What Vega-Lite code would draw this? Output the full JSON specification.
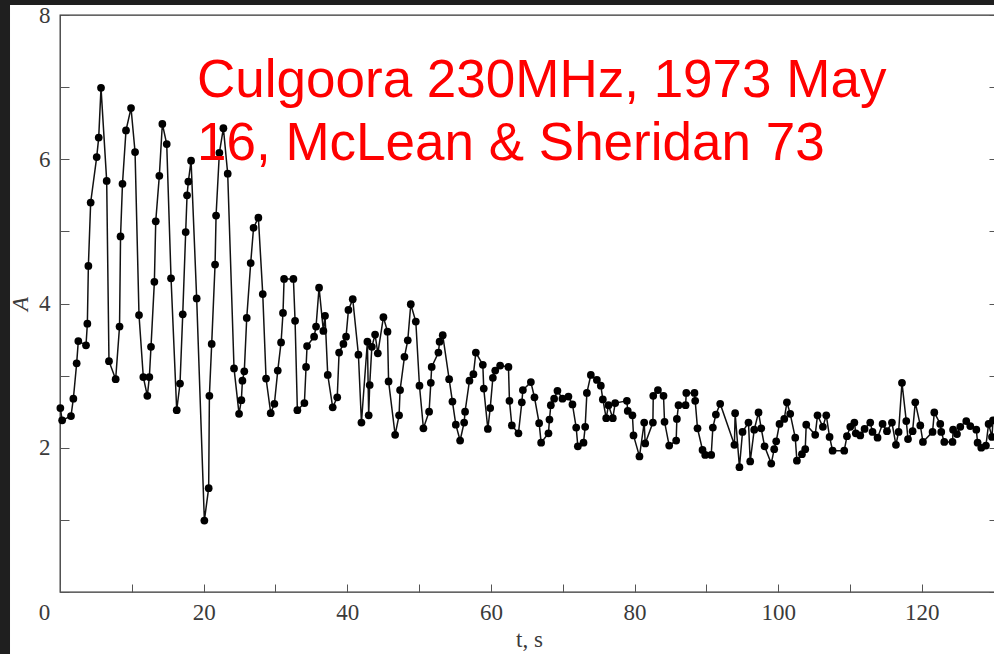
{
  "$schema": "https://vega.github.io/schema/vega-lite/v6.json",
  "width": 938,
  "height": 577,
  "autosize": {"type": "none"},
  "padding": {"left": 60, "top": 15, "right": 0, "bottom": 62},
  "background": "white",
  "config": {
    "view": {"stroke": "#333333", "strokeWidth": 1.3},
    "axis": {
      "labelFont": "Liberation Serif",
      "labelFontSize": 23,
      "labelColor": "#3a3a3a",
      "titleFont": "Liberation Serif",
      "titleFontSize": 23,
      "titleFontWeight": "normal",
      "titleColor": "#3a3a3a",
      "tickColor": "#555555",
      "tickWidth": 1,
      "domain": false,
      "grid": false,
      "labelOverlap": false,
      "labelFlush": false,
      "labelBound": false
    }
  },
  "datasets": {
    "pts": [
      {"t": 0.05, "A": 2.55}, {"t": 0.3, "A": 2.38}, {"t": 1.53, "A": 2.44}, {"t": 1.86, "A": 2.68},
      {"t": 2.32, "A": 3.17}, {"t": 2.55, "A": 3.48}, {"t": 3.62, "A": 3.42}, {"t": 3.81, "A": 3.72},
      {"t": 3.95, "A": 4.52}, {"t": 4.27, "A": 5.40}, {"t": 5.11, "A": 6.03}, {"t": 5.39, "A": 6.30},
      {"t": 5.71, "A": 6.99}, {"t": 6.5, "A": 5.70}, {"t": 6.82, "A": 3.20}, {"t": 7.75, "A": 2.95},
      {"t": 8.29, "A": 3.68}, {"t": 8.43, "A": 4.93}, {"t": 8.7, "A": 5.66}, {"t": 9.19, "A": 6.40},
      {"t": 9.89, "A": 6.71}, {"t": 10.45, "A": 6.10}, {"t": 11.0, "A": 3.84}, {"t": 11.6, "A": 2.98},
      {"t": 12.16, "A": 2.72}, {"t": 12.44, "A": 2.98}, {"t": 12.67, "A": 3.40}, {"t": 13.14, "A": 4.30},
      {"t": 13.33, "A": 5.14}, {"t": 13.83, "A": 5.77}, {"t": 14.25, "A": 6.49}, {"t": 14.86, "A": 6.21},
      {"t": 15.46, "A": 4.35}, {"t": 16.25, "A": 2.52}, {"t": 16.71, "A": 2.89}, {"t": 17.09, "A": 3.85},
      {"t": 17.5, "A": 4.99}, {"t": 17.69, "A": 5.50}, {"t": 17.87, "A": 5.69}, {"t": 18.25, "A": 5.98},
      {"t": 19.03, "A": 4.07}, {"t": 20.1, "A": 0.99}, {"t": 20.7, "A": 1.44}, {"t": 20.8, "A": 2.72},
      {"t": 21.12, "A": 3.44}, {"t": 21.59, "A": 4.54}, {"t": 21.73, "A": 5.22}, {"t": 22.19, "A": 6.09},
      {"t": 22.75, "A": 6.43}, {"t": 23.35, "A": 5.80}, {"t": 24.23, "A": 3.10}, {"t": 24.93, "A": 2.47},
      {"t": 25.25, "A": 2.66}, {"t": 25.4, "A": 2.93}, {"t": 25.66, "A": 3.06}, {"t": 26.0, "A": 3.80},
      {"t": 26.55, "A": 4.56}, {"t": 26.95, "A": 5.05}, {"t": 27.62, "A": 5.19}, {"t": 28.23, "A": 4.13},
      {"t": 28.69, "A": 2.96}, {"t": 29.34, "A": 2.48}, {"t": 29.85, "A": 2.61}, {"t": 30.32, "A": 3.07},
      {"t": 30.78, "A": 3.46}, {"t": 31.05, "A": 3.87}, {"t": 31.2, "A": 4.34}, {"t": 32.5, "A": 4.34},
      {"t": 32.73, "A": 3.76}, {"t": 33.05, "A": 2.52}, {"t": 34.03, "A": 2.62}, {"t": 34.26, "A": 3.12},
      {"t": 34.4, "A": 3.41}, {"t": 35.38, "A": 3.54}, {"t": 35.65, "A": 3.68}, {"t": 36.07, "A": 4.22},
      {"t": 36.67, "A": 3.62}, {"t": 36.9, "A": 3.83}, {"t": 37.28, "A": 3.01}, {"t": 37.97, "A": 2.56},
      {"t": 38.6, "A": 2.70}, {"t": 38.86, "A": 3.32}, {"t": 39.46, "A": 3.44}, {"t": 39.83, "A": 3.54},
      {"t": 40.16, "A": 3.91}, {"t": 40.76, "A": 4.06}, {"t": 41.55, "A": 3.29}, {"t": 41.97, "A": 2.35},
      {"t": 42.8, "A": 3.47}, {"t": 42.98, "A": 2.45}, {"t": 43.12, "A": 2.87}, {"t": 43.42, "A": 3.40},
      {"t": 43.87, "A": 3.57}, {"t": 44.25, "A": 3.31}, {"t": 45.03, "A": 3.81}, {"t": 45.6, "A": 3.61},
      {"t": 45.75, "A": 2.92}, {"t": 46.66, "A": 2.18}, {"t": 47.21, "A": 2.45}, {"t": 47.35, "A": 2.80},
      {"t": 47.96, "A": 3.26}, {"t": 48.42, "A": 3.49}, {"t": 48.84, "A": 3.99}, {"t": 49.54, "A": 3.75},
      {"t": 50.05, "A": 2.86}, {"t": 50.6, "A": 2.27}, {"t": 51.39, "A": 2.50}, {"t": 51.63, "A": 2.90},
      {"t": 51.75, "A": 3.12}, {"t": 52.69, "A": 3.32}, {"t": 52.85, "A": 3.47}, {"t": 53.29, "A": 3.56},
      {"t": 54.18, "A": 2.95}, {"t": 54.64, "A": 2.64}, {"t": 55.11, "A": 2.32}, {"t": 55.71, "A": 2.10},
      {"t": 56.27, "A": 2.35}, {"t": 56.4, "A": 2.50}, {"t": 57.01, "A": 2.93}, {"t": 57.56, "A": 3.02},
      {"t": 57.9, "A": 3.32}, {"t": 58.87, "A": 3.15}, {"t": 59.0, "A": 2.82}, {"t": 59.57, "A": 2.26},
      {"t": 59.9, "A": 2.55}, {"t": 60.27, "A": 2.97}, {"t": 60.6, "A": 3.07}, {"t": 61.28, "A": 3.14},
      {"t": 62.44, "A": 3.12}, {"t": 62.58, "A": 2.65}, {"t": 62.91, "A": 2.31}, {"t": 63.83, "A": 2.20},
      {"t": 64.3, "A": 2.63}, {"t": 64.45, "A": 2.80}, {"t": 65.56, "A": 2.91}, {"t": 66.06, "A": 2.70},
      {"t": 66.71, "A": 2.34}, {"t": 66.99, "A": 2.07}, {"t": 68.01, "A": 2.20}, {"t": 68.15, "A": 2.39},
      {"t": 68.34, "A": 2.59}, {"t": 68.8, "A": 2.68}, {"t": 69.26, "A": 2.79}, {"t": 69.96, "A": 2.68},
      {"t": 70.79, "A": 2.71}, {"t": 71.35, "A": 2.60}, {"t": 71.87, "A": 2.28}, {"t": 72.1, "A": 2.02},
      {"t": 72.89, "A": 2.07}, {"t": 73.12, "A": 2.29}, {"t": 73.36, "A": 2.76}, {"t": 73.91, "A": 3.01},
      {"t": 74.75, "A": 2.94}, {"t": 75.3, "A": 2.86}, {"t": 75.58, "A": 2.67}, {"t": 76.05, "A": 2.41},
      {"t": 76.37, "A": 2.59}, {"t": 76.97, "A": 2.41}, {"t": 77.3, "A": 2.62}, {"t": 78.93, "A": 2.65},
      {"t": 79.05, "A": 2.51}, {"t": 79.7, "A": 2.45}, {"t": 79.85, "A": 2.17}, {"t": 80.68, "A": 1.88},
      {"t": 81.34, "A": 2.35}, {"t": 81.48, "A": 2.06}, {"t": 82.55, "A": 2.35}, {"t": 82.6, "A": 2.72},
      {"t": 83.25, "A": 2.80}, {"t": 84.03, "A": 2.72}, {"t": 84.17, "A": 2.36}, {"t": 84.82, "A": 2.03},
      {"t": 85.79, "A": 2.10}, {"t": 85.89, "A": 2.40}, {"t": 86.12, "A": 2.59}, {"t": 87.1, "A": 2.59},
      {"t": 87.2, "A": 2.76}, {"t": 88.34, "A": 2.76}, {"t": 88.44, "A": 2.65}, {"t": 88.76, "A": 2.27},
      {"t": 89.46, "A": 1.97}, {"t": 89.83, "A": 1.90}, {"t": 90.67, "A": 1.90}, {"t": 90.9, "A": 2.28},
      {"t": 91.32, "A": 2.46}, {"t": 91.92, "A": 2.61}, {"t": 93.9, "A": 2.04}, {"t": 94.0, "A": 2.48},
      {"t": 94.6, "A": 1.73}, {"t": 95.03, "A": 2.22}, {"t": 95.86, "A": 2.35}, {"t": 96.1, "A": 1.81},
      {"t": 96.66, "A": 2.25}, {"t": 97.26, "A": 2.49}, {"t": 97.63, "A": 2.27}, {"t": 98.1, "A": 2.02},
      {"t": 99.03, "A": 1.78}, {"t": 99.44, "A": 1.98}, {"t": 99.72, "A": 2.09}, {"t": 100.18, "A": 2.33},
      {"t": 100.84, "A": 2.40}, {"t": 101.21, "A": 2.63}, {"t": 101.67, "A": 2.47}, {"t": 102.37, "A": 2.14},
      {"t": 102.6, "A": 1.82}, {"t": 103.3, "A": 1.91}, {"t": 103.76, "A": 1.98}, {"t": 103.9, "A": 2.32},
      {"t": 105.15, "A": 2.18}, {"t": 105.47, "A": 2.45}, {"t": 106.22, "A": 2.29}, {"t": 106.69, "A": 2.45},
      {"t": 107.15, "A": 2.15}, {"t": 107.57, "A": 1.96}, {"t": 109.19, "A": 1.96}, {"t": 109.57, "A": 2.16},
      {"t": 110.03, "A": 2.29}, {"t": 110.6, "A": 2.35}, {"t": 110.8, "A": 2.20}, {"t": 111.42, "A": 2.17},
      {"t": 112.02, "A": 2.26}, {"t": 112.81, "A": 2.35}, {"t": 113.13, "A": 2.22}, {"t": 113.83, "A": 2.14},
      {"t": 114.53, "A": 2.33}, {"t": 115.14, "A": 2.23}, {"t": 115.83, "A": 2.35}, {"t": 116.39, "A": 2.04},
      {"t": 116.76, "A": 2.22}, {"t": 117.23, "A": 2.90}, {"t": 117.83, "A": 2.37}, {"t": 118.07, "A": 2.12},
      {"t": 118.71, "A": 2.23}, {"t": 119.08, "A": 2.63}, {"t": 119.78, "A": 2.31}, {"t": 120.15, "A": 2.08},
      {"t": 121.49, "A": 2.22}, {"t": 121.73, "A": 2.49}, {"t": 122.56, "A": 2.33}, {"t": 122.7, "A": 2.22},
      {"t": 123.12, "A": 2.08}, {"t": 124.27, "A": 2.08}, {"t": 124.35, "A": 2.25}, {"t": 124.89, "A": 2.19},
      {"t": 125.35, "A": 2.29}, {"t": 126.18, "A": 2.37}, {"t": 126.74, "A": 2.30}, {"t": 127.58, "A": 2.25},
      {"t": 127.76, "A": 2.07}, {"t": 128.27, "A": 2.00}, {"t": 128.92, "A": 2.03}, {"t": 129.29, "A": 2.33},
      {"t": 129.76, "A": 2.15}, {"t": 129.9, "A": 2.38}
    ]
  },
  "layer": [
    {
      "data": {"name": "pts"},
      "mark": {"type": "line", "color": "#111111", "strokeWidth": 1.5},
      "encoding": {
        "x": {
          "field": "t", "type": "quantitative",
          "scale": {"domain": [0, 130.6], "nice": false, "zero": false},
          "axis": {
            "orient": "bottom",
            "values": [0, 10, 20, 30, 40, 50, 60, 70, 80, 90, 100, 110, 120, 130],
            "labelExpr": "datum.value % 20 === 0 ? datum.label : ''",
            "labelOffset": {"condition": {"test": "datum.value === 0", "value": -16}, "value": 0},
            "tickSize": -8,
            "labelPadding": 17,
            "title": "t, s",
            "titlePadding": 4
          }
        },
        "y": {
          "field": "A", "type": "quantitative",
          "scale": {"domain": [0, 8], "nice": false, "zero": false},
          "axis": {
            "values": [0, 1, 2, 3, 4, 5, 6, 7, 8],
            "labelExpr": "datum.value % 2 === 0 && datum.value > 0 ? datum.label : ''",
            "tickSize": -9,
            "labelPadding": 19,
            "title": "A",
            "titleFontStyle": "italic",
            "titlePadding": 6
          }
        }
      }
    },
    {
      "data": {"name": "pts"},
      "mark": {"type": "point", "filled": true, "color": "#000000", "size": 60, "opacity": 1},
      "encoding": {
        "x": {"field": "t", "type": "quantitative", "axis": null, "scale": {"domain": [0, 130.6], "nice": false, "zero": false}},
        "y": {
          "field": "A", "type": "quantitative",
          "scale": {"domain": [0, 8], "nice": false, "zero": false},
          "axis": {"orient": "right", "values": [0, 1, 2, 3, 4, 5, 6, 7, 8], "labels": false, "tickSize": -9, "title": null}
        }
      }
    },
    {
      "data": {"values": [{}]},
      "mark": {
        "type": "text",
        "text": ["Culgoora 230MHz, 1973 May", "16, McLean & Sheridan 73"],
        "align": "left",
        "baseline": "alphabetic",
        "font": "Liberation Sans",
        "fontSize": 53,
        "lineHeight": 63,
        "color": "#ff0000"
      },
      "encoding": {
        "x": {"datum": 19.08, "type": "quantitative", "axis": null, "scale": {"domain": [0, 130.6], "nice": false, "zero": false}},
        "y": {"datum": 6.865, "type": "quantitative", "axis": null, "scale": {"domain": [0, 8], "nice": false, "zero": false}}
      }
    },
    {
      "data": {"values": [{}]},
      "mark": {"type": "rect", "color": "#1f1f1f", "clip": false},
      "encoding": {
        "x": {"datum": -9, "type": "quantitative", "axis": null, "scale": {"domain": [0, 130.6], "nice": false, "zero": false}},
        "x2": {"datum": -6.96},
        "y": {"datum": -1, "type": "quantitative", "axis": null, "scale": {"domain": [0, 8], "nice": false, "zero": false}},
        "y2": {"datum": 9}
      }
    },
    {
      "data": {"values": [{}]},
      "mark": {"type": "rect", "color": "#1f1f1f", "clip": false},
      "encoding": {
        "x": {"datum": -9, "type": "quantitative", "axis": null, "scale": {"domain": [0, 130.6], "nice": false, "zero": false}},
        "x2": {"datum": 140},
        "y": {"datum": 8.14, "type": "quantitative", "axis": null, "scale": {"domain": [0, 8], "nice": false, "zero": false}},
        "y2": {"datum": 9}
      }
    }
  ],
  "resolve": {"axis": {"x": "independent", "y": "independent"}}
}
